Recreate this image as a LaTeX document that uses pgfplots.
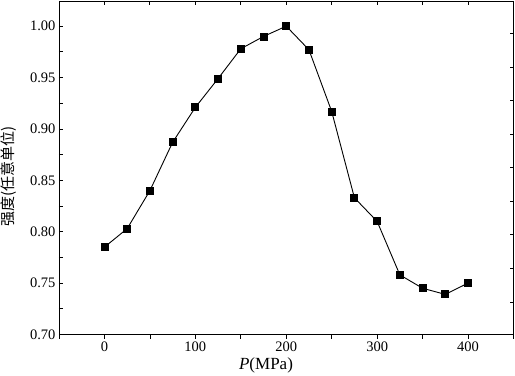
\documentclass[border=0pt]{standalone}
\usepackage{pgfplots}
\pgfplotsset{compat=1.18}
\usepackage{fontspec}
\setmainfont{Liberation Serif}
\newfontfamily\cjk{Noto Sans CJK SC}
\begin{document}
\begin{tikzpicture}
\pgfplotsset{common/.style={width=454.5bp,height=333.5bp,scale only axis,
  xmin=-50,xmax=450,ymin=0.70,ymax=1.0245,
  major tick length=4bp, minor tick length=4bp,
  every tick/.style={black,line width=0.8bp},
  /pgf/number format/assume math mode=true,
  tick label style={font=\fontsize{14.5bp}{16bp}\selectfont}}}
\begin{axis}[common, name=main, axis line style={line width=0.8bp},
  tick align=outside, xtick pos=lower,
  xtick={0,100,...,400}, minor xtick={-50,50,150,250,350,450},
  ytick=\empty,
  xlabel={\textit{P}(MPa)},
  xlabel style={font=\fontsize{17bp}{19bp}\selectfont, at={(axis description cs:0.4555,-0.094)}, anchor=center}]
\addplot[black, line width=0.9bp, mark=square*, mark size=3.5bp, mark options={solid}] table {
x y
0 0.785
25 0.803
50 0.840
75 0.887
100 0.921
125 0.949
150 0.978
175 0.990
200 1.000
225 0.977
250 0.917
275 0.833
300 0.810
325 0.758
350 0.745
375 0.739
400 0.750
};
\end{axis}
\begin{axis}[common, axis line style={draw=none}, tick align=inside,
  xtick pos=upper, xtick={0,100,...,400}, minor xtick={-50,50,150,250,350,450}, xticklabels={},
  ytick pos=left, ytick={0.70,0.75,0.80,0.85,0.90,0.95,1.00},
  minor ytick={0.725,0.775,0.825,0.875,0.925,0.975},
  yticklabel style={/pgf/number format/.cd,fixed,fixed zerofill,precision=2},
  ylabel={\cjk 强度(任意单位)},
  ylabel style={font=\fontsize{15bp}{17bp}\selectfont, at={(axis description cs:-0.110,0.475)}, anchor=center}]
\end{axis}
\begin{axis}[common, axis line style={draw=none}, tick align=inside,
  xtick=\empty, ytick pos=right,
  ytick={0.7317,0.7644,0.7970,0.8297,0.8623,0.8950,0.9276,0.9603,0.9930},
  yticklabels={}]
\end{axis}
\path (main.south west) ++(-59bp,-41.5bp) coordinate (bbA);
\path (main.north east) ++(1.5bp,1bp) coordinate (bbB);
\pgfresetboundingbox
\path (bbA) rectangle (bbB);
\end{tikzpicture}
\end{document}
